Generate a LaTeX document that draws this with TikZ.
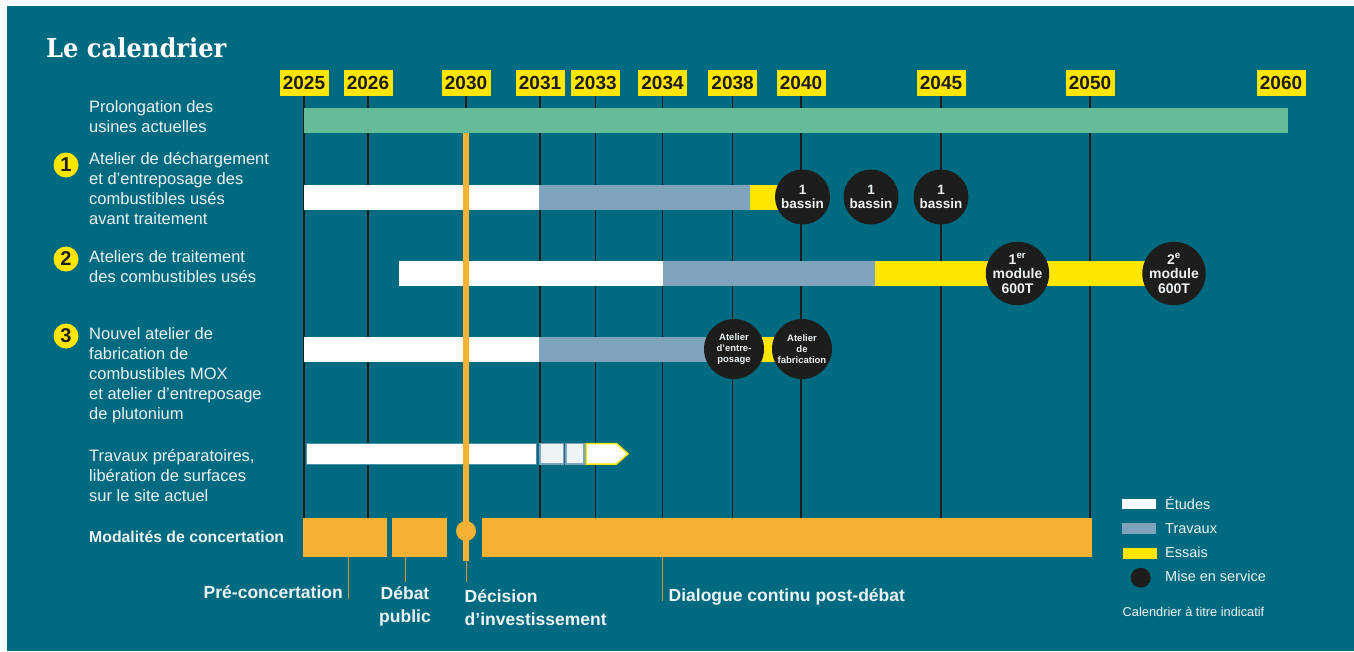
\documentclass[tikz,border=0pt]{standalone}
\usepackage{fontspec}
\setmainfont{Liberation Sans}
\newfontfamily\titlefont[FakeStretch=0.93]{DejaVu Serif}
\newcommand\setfs[2]{\fontsize{#1}{#2}\selectfont}

\definecolor{tealbg}{RGB}{0,107,128}
\definecolor{yellowc}{RGB}{255,230,0}
\definecolor{darkc}{RGB}{29,29,27}
\definecolor{greenc}{RGB}{102,187,153}
\definecolor{grayc}{RGB}{127,163,189}
\definecolor{orangec}{RGB}{247,177,51}
\definecolor{textc}{RGB}{236,242,244}
\definecolor{prepline}{RGB}{70,145,168}
\definecolor{boxfill}{RGB}{238,243,246}

\begin{document}
\begin{tikzpicture}[x=1pt,y=-1pt,
  yearbox/.style={fill=yellowc, text=darkc, font=\setfs{19}{22}\bfseries,
    minimum width=49, minimum height=26, inner sep=0},
  tick/.style={draw=darkc, line width=1.3},
  rowlabel/.style={text=textc, font=\setfs{16.5}{20}, align=left,
    anchor=base west, inner sep=0},
  numdot/.style={circle, fill=yellowc, minimum size=25, inner sep=0,
    text=darkc, font=\setfs{20}{20}\bfseries},
  milestone/.style={circle, fill=darkc, inner sep=0, text=textc, align=center},
  etudes/.style={fill=white},
  travaux/.style={fill=grayc},
  essais/.style={fill=yellowc},
  concert/.style={fill=orangec},
  conn/.style={draw=orangec!85!black, line width=0.9},
  bottomlabel/.style={text=textc, font=\setfs{17.5}{23}\bfseries, inner sep=0},
  legendlabel/.style={text=textc, font=\setfs{14.5}{17}, anchor=base west, inner sep=0}
]
% page and panel
\useasboundingbox (0,0) rectangle (1354,651);
\fill[white] (0,0) rectangle (1354,651);
\fill[tealbg] (7,6) rectangle (1354,651);

% title
\node[anchor=base west, inner sep=0, text=white, font=\titlefont\setfs{26}{30}\bfseries]
  (title) at (46,57) {Le calendrier};

% year labels
\foreach \yr/\xx in {2025/304, 2026/368, 2030/466, 2031/540, 2033/595.5,
                     2034/662.5, 2038/732.6, 2040/801, 2045/941, 2050/1090, 2060/1281}
  \node[yearbox] (y\yr) at (\xx,83) {\yr};

% year ticks
\foreach \yr in {2025,2026,2030,2031,2033,2034,2038,2040,2045,2050}
  \draw[tick] (y\yr.south) -- ++(0,422);

% row labels (anchored on the baseline of their last line)
\node[rowlabel] (lab0) at (89,132) {Prolongation des\\usines actuelles};
\node[numdot] (n1) at (66,165) {1};
\node[rowlabel] (lab1) at (89,224) {Atelier de déchargement\\et d’entreposage des\\combustibles usés\\avant traitement};
\node[numdot] (n2) at (66,259) {2};
\node[rowlabel] (lab2) at (89,282) {Ateliers de traitement\\des combustibles usés};
\node[numdot] (n3) at (66,336) {3};
\node[rowlabel] (lab3) at (89,419) {Nouvel atelier de\\fabrication de\\combustibles MOX\\et atelier d’entreposage\\de plutonium};
\node[rowlabel] (lab4) at (89,501) {Travaux préparatoires,\\libération de surfaces\\sur le site actuel};
\node[rowlabel, font=\setfs{15.8}{20}\bfseries] (lab5) at (89,542) {Modalités de concertation};

% existing plants
\fill[greenc] (304,108) rectangle (1288,132.7);

% row 1
\fill[etudes] (304,185) rectangle (539,210);
\fill[travaux] (539,185) rectangle (750,210);
\fill[essais] (750,185) rectangle (802,210);
\begin{scope}[every node/.style={milestone, minimum size=55, font=\setfs{13.5}{14.7}\bfseries}]
  \node (b1) at (802.5,197) {1\\bassin};
  \node (b2) at (871,197) {1\\bassin};
  \node (b3) at (941,197) {1\\bassin};
\end{scope}

% row 2
\fill[etudes] (399,261) rectangle (663,286);
\fill[travaux] (663,261) rectangle (875,286);
\fill[essais] (875,261) rectangle (1174,286);
\begin{scope}[every node/.style={milestone, minimum size=54, font=\setfs{14}{14.5}\bfseries}]
  \node (m1) at (1017.5,273.5) {1\textsuperscript{er}\\module\\600T};
  \node (m2) at (1174,273.5) {2\textsuperscript{e}\\module\\600T};
\end{scope}

% row 3
\fill[etudes] (304,337) rectangle (539,362);
\fill[travaux] (539,337) rectangle (734,362);
\fill[essais] (734,337) rectangle (802,362);
\begin{scope}[every node/.style={milestone, minimum size=60, font=\setfs{9.5}{10.6}\bfseries}]
  \node (a1) at (734,349) {Atelier\\d’entre-\\posage};
  \node (a2) at (802,349) {Atelier\\de\\fabrication};
\end{scope}

% preparatory works
\filldraw[fill=white, draw=prepline, line width=1] (306,443) rectangle (536.5,464.5);
\filldraw[fill=boxfill, draw=grayc, line width=1.5] (540,443.5) rectangle (563.5,464);
\filldraw[fill=boxfill, draw=grayc, line width=1.5] (566,443.5) rectangle (584,464);
\filldraw[fill=white, draw=yellowc, line width=1.5]
  (586,443.5) -- (616.5,443.5) -- (628,453.8) -- (616.5,464) -- (586,464) -- cycle;

% consultation bars
\fill[concert] (303,518) rectangle (387,557);
\fill[concert] (392,518) rectangle (447,557);
\fill[concert] (482,518) rectangle (1092,557);

% investment decision
\draw[draw=orangec, line width=5.3] (466,132.7) -- (466,561);
\node[circle, fill=orangec, minimum size=20, inner sep=0] (dec) at (466,531) {};

% bottom labels
\node[bottomlabel, anchor=base east] (bl1) at (343,598.5) {Pré-concertation};
\node[bottomlabel, anchor=base, align=center] (bl2) at (405,622) {Débat\\public};
\node[bottomlabel, anchor=base west, align=left] (bl3) at (464.5,625) {Décision\\d’investissement};
\node[bottomlabel, anchor=base west] (bl4) at (668.5,601) {Dialogue continu post-débat};

\coordinate (c1a) at (348,557);   \coordinate (c1b) at (348,599);
\coordinate (c2a) at (405,557);   \coordinate (c2b) at (405,582);
\coordinate (c3a) at (466.5,561); \coordinate (c3b) at (466.5,582);
\coordinate (c4a) at (662.6,557); \coordinate (c4b) at (662.6,601);
\draw[conn] (c1a) -- (c1b);
\draw[conn] (c2a) -- (c2b);
\draw[conn] (c3a) -- (c3b);
\draw[conn] (c4a) -- (c4b);

% legend
\fill[etudes] (1122,498.5) rectangle (1155.5,509);
\node[legendlabel] (le1) at (1165,509) {Études};
\fill[travaux] (1122,523) rectangle (1155.5,533.5);
\node[legendlabel] (le2) at (1165,533) {Travaux};
\fill[essais] (1123,548) rectangle (1157,559);
\node[legendlabel] (le3) at (1165,557.5) {Essais};
\node[circle, fill=darkc, minimum size=20, inner sep=0] (le4dot) at (1140.7,577.7) {};
\node[legendlabel] (le4) at (1165,581.5) {Mise en service};
\node[legendlabel, font=\setfs{12.8}{15}] (le5) at (1122.5,616.5) {Calendrier à titre indicatif};
\end{tikzpicture}
\end{document}
